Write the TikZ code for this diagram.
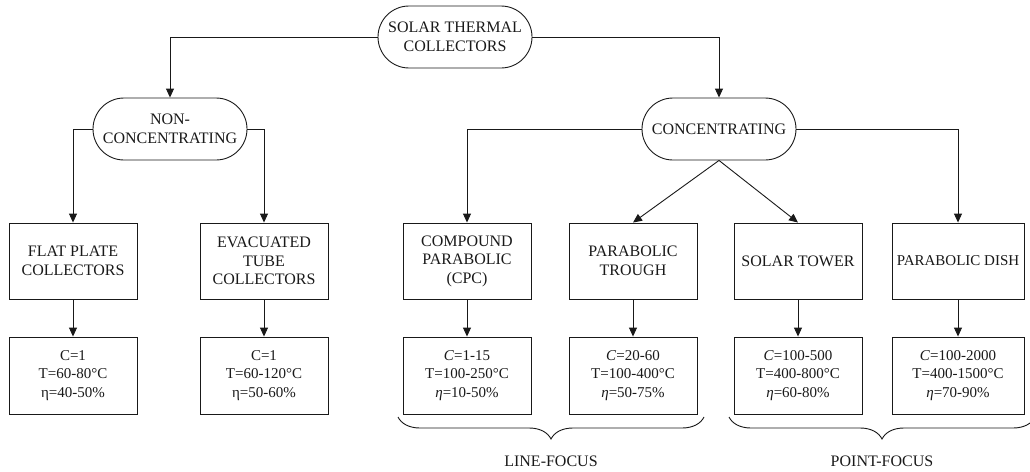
\documentclass[tikz,border=0pt]{standalone}
\usepackage{fontspec}
\setmainfont{Liberation Serif}
\usetikzlibrary{arrows.meta,decorations.pathreplacing}

\begin{document}
\begin{tikzpicture}[x=1pt,y=-1pt,line width=0.9pt,color=black!90,
  every node/.style={font=\fontsize{16}{18.5}\selectfont,align=center,inner sep=1pt},
  pill/.style={draw,rounded corners=31pt,minimum width=154pt,minimum height=62pt},
  typebox/.style={draw,minimum width=128pt,minimum height=76pt},
  databox/.style={draw,minimum width=128pt,minimum height=77pt,font=\fontsize{15}{18.5}\selectfont},
  arr/.style={-{Triangle[length=9pt,width=8pt]}},
  focusbrace/.style={decorate,decoration={brace,mirror,amplitude=22pt}}]
\useasboundingbox (0,0) rectangle (1030,471);
% Main Categories
\node[pill] (solar) at (455,37) {SOLAR THERMAL\\COLLECTORS};
\node[pill] (noncon) at (170,129) {NON-\\CONCENTRATING};
\node[pill] (conc) at (719,129) {CONCENTRATING};
% Collector Types
\node[typebox] (flat) at (73,261) {FLAT PLATE\\COLLECTORS};
\node[typebox] (evac) at (264,261) {EVACUATED\\TUBE\\COLLECTORS};
\node[typebox] (cpc) at (467,261) {COMPOUND\\PARABOLIC\\(CPC)};
\node[typebox] (trough) at (633,261) {PARABOLIC\\TROUGH};
\node[typebox] (tower) at (798,261) {SOLAR TOWER};
\node[typebox,minimum width=132pt,font=\fontsize{15}{18.5}\selectfont] (dish) at (958,261) {PARABOLIC DISH};
% Operating Data
\node[databox] (flatd) at (73,375.5) {C=1\\T=60-80°C\\η=40-50\%};
\node[databox] (evacd) at (264,375.5) {C=1\\T=60-120°C\\η=50-60\%};
\node[databox] (cpcd) at (467,375.5) {\textit{C}=1-15\\T=100-250°C\\\textit{η}=10-50\%};
\node[databox] (troughd) at (633,375.5) {\textit{C}=20-60\\T=100-400°C\\\textit{η}=50-75\%};
\node[databox] (towerd) at (798,375.5) {\textit{C}=100-500\\T=400-800°C\\\textit{η}=60-80\%};
\node[databox,minimum width=132pt] (dishd) at (958,375.5) {\textit{C}=100-2000\\T=400-1500°C\\\textit{η}=70-90\%};
% Focus Groups
\node (linelbl) at (551,461) {LINE-FOCUS};
\node (pointlbl) at (882,461) {POINT-FOCUS};
\coordinate (lineL) at (398,417);
\coordinate (lineR) at (704,417);
\coordinate (pointL) at (729,417);
\coordinate (pointR) at (1035,417);
%
% Classification Edges
\draw[arr] (solar.west) -| (noncon.north);
\draw[arr] (solar.east) -| (conc.north);
\draw[arr] (noncon.west) -| (flat.north);
\draw[arr] (noncon.east) -| (evac.north);
\draw[arr] (conc.west) -| (cpc.north);
\draw[arr] (conc.east) -| (dish.north);
\draw[arr] (conc.south) -- (trough.north);
\draw[arr] (conc.south) -- (tower.north);
% Type to Data Edges
\foreach \a in {flat,evac,cpc,trough,tower,dish}
  \draw[arr] (\a.south) -- (\a d.north);
% Braces
\draw[focusbrace] (lineL) -- (lineR);
\begin{scope}
\clip (0,0) rectangle (1030,471);
\draw[focusbrace] (pointL) -- (pointR);
\end{scope}
\end{tikzpicture}
\end{document}
